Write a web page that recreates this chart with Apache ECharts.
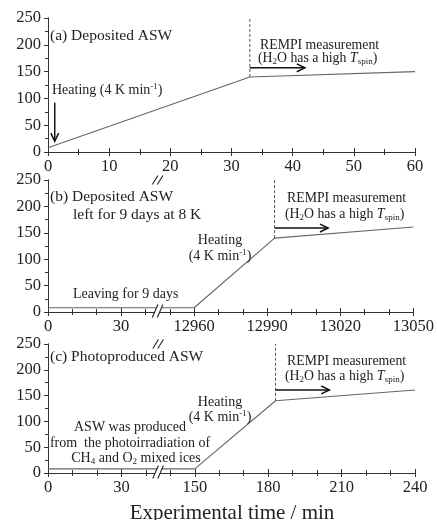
<!DOCTYPE html>
<html>
<head>
<meta charset="utf-8">
<script src="https://cdn.jsdelivr.net/npm/echarts@6/dist/echarts.min.js"></script>
<style>html,body{margin:0;padding:0;background:#fff;}#c{width:437px;height:520px;}</style>
</head>
<body>
<div id="c"></div>
<script>
// ---- data ----
const aTime = [0, 33, 60];
const aTemp = [8, 140, 150];
const bTime = [0, 12960, 12993, 13050];
const bTemp = [8, 8, 140, 161];
const cTime = [0, 150, 183, 240];
const cTemp = [8, 8, 140, 161];
const rempiStart = [33, 12993, 183];     // dashed line / arrow start (min)
const arrowEnd = [42, 13015, 205];        // REMPI arrow end (min)
const arrowTemp = [157, 159, 161];        // REMPI arrow height (K)
const heatArrowA = [1.1, 92, 1.1, 20];    // Heating arrow in (a): x1,y1,x2,y2
const xTicksA = ['0','10','20','30','40','50','60'];
const xTicksB = ['0','30','12960','12990','13020','13050'];
const xTicksC = ['0','30','150','180','210','240'];
const yTicks = ['0','50','100','150','200','250'];
const breakAt = 45;                       // axis break (display units)
const breakOffsetB = 12900;
const breakOffsetC = 90;

const toDisp = (t, off) => (t <= breakAt ? t : t - off);

const FONT = 'Liberation Serif';
const INK = '#222';
const grids = [
  {left: 48, top: 18, width: 367, height: 134},
  {left: 48, top: 180, width: 367, height: 132},
  {left: 48, top: 344, width: 367, height: 129}
];

const xCfg = [
  {max: 60, interval: 10, split: 2, labels: xTicksA},
  {max: 150, interval: 30, split: 3, labels: xTicksB},
  {max: 150, interval: 30, split: 3, labels: xTicksC}
];

const xAxis = [], yAxis = [];
grids.forEach((g, i) => {
  const c = xCfg[i];
  const base = {
    type: 'value', gridIndex: i, min: 0, max: c.max, interval: c.interval,
    axisLine: {show: true, lineStyle: {color: '#333', width: 1}},
    axisTick: {show: true, inside: true, length: 4, lineStyle: {color: '#333'}},
    minorTick: {show: true, splitNumber: c.split, length: 3, lineStyle: {color: '#333'}},
    splitLine: {show: false}
  };
  xAxis.push(Object.assign({}, base, {
    position: 'bottom',
    axisLabel: {show: true, margin: 6, color: INK, fontFamily: FONT, fontSize: 16.5,
      formatter: v => c.labels[Math.round(v / c.interval)]}
  }));
  xAxis.push(Object.assign({}, base, {position: 'top', axisLabel: {show: false}}));
  const ybase = {
    type: 'value', gridIndex: i, min: 0, max: 250, interval: 50,
    axisLine: {show: true, lineStyle: {color: '#333', width: 1}},
    minorTick: {show: true, splitNumber: 2, length: 3, lineStyle: {color: '#333'}},
    splitLine: {show: false}
  };
  yAxis.push(Object.assign({}, ybase, {
    position: 'left',
    axisTick: {show: true, inside: false, length: 4, lineStyle: {color: '#333'}},
    axisLabel: {show: true, margin: 7, color: INK, fontFamily: FONT, fontSize: 16.5,
      formatter: v => yTicks[Math.round(v / 50)]}
  }));
  yAxis.push(Object.assign({}, ybase, {
    position: 'right',
    axisTick: {show: true, inside: true, length: 4, lineStyle: {color: '#333'}},
    axisLabel: {show: false}
  }));
});

const panels = [
  {time: aTime, temp: aTemp, map: t => t},
  {time: bTime, temp: bTemp, map: t => toDisp(t, breakOffsetB)},
  {time: cTime, temp: cTemp, map: t => toDisp(t, breakOffsetC)}
];

function arrowRender(params, api) {
  const p1 = api.coord([api.value(0), api.value(1)]);
  const p2 = api.coord([api.value(2), api.value(3)]);
  const ang = Math.atan2(p2[1] - p1[1], p2[0] - p1[0]);
  const L = 9, w = Math.PI / 7;
  const h1 = [p2[0] - L * Math.cos(ang - w), p2[1] - L * Math.sin(ang - w)];
  const h2 = [p2[0] - L * Math.cos(ang + w), p2[1] - L * Math.sin(ang + w)];
  return {
    type: 'group',
    children: [
      {type: 'line', shape: {x1: p1[0], y1: p1[1], x2: p2[0], y2: p2[1]},
        style: {stroke: '#111', lineWidth: 1.5}},
      {type: 'polyline', shape: {points: [h1, p2, h2]},
        style: {stroke: '#111', lineWidth: 1.5, fill: null}}
    ]
  };
}

function breakRender(params, api) {
  const p = api.coord([api.value(0), api.value(1)]);
  const hh = api.value(1) > 0 ? 4.5 : 6.5;
  const cy = api.value(1) > 0 ? p[1] : p[1] - 1;
  const dx = 2.5, sx = 2.8;
  const x = p[0];
  return {
    type: 'group',
    children: [
      {type: 'polygon', shape: {points: [
        [x - dx - sx, cy + hh], [x - dx + sx, cy - hh], [x + dx + sx, cy - hh], [x + dx - sx, cy + hh]
      ]}, style: {fill: '#fff', stroke: null}},
      {type: 'line', shape: {x1: x - dx - sx, y1: cy + hh, x2: x - dx + sx, y2: cy - hh},
        style: {stroke: '#222', lineWidth: 1.1}},
      {type: 'line', shape: {x1: x + dx - sx, y1: cy + hh, x2: x + dx + sx, y2: cy - hh},
        style: {stroke: '#222', lineWidth: 1.1}}
    ]
  };
}

const series = [];
panels.forEach((p, i) => {
  const xi = 2 * i, yi = 2 * i;
  series.push({
    type: 'line', xAxisIndex: xi, yAxisIndex: yi, symbol: 'none', z: 3,
    lineStyle: {color: '#666', width: 1.1},
    data: p.time.map((t, k) => [p.map(t), p.temp[k]])
  });
  series.push({
    type: 'line', xAxisIndex: xi, yAxisIndex: yi, symbol: 'none', z: 3,
    lineStyle: {color: '#555', width: 1, type: [3, 2]},
    data: [[p.map(rempiStart[i]), p.temp[p.temp.length - 2]], [p.map(rempiStart[i]), 250]]
  });
  const arrows = [[p.map(rempiStart[i]), arrowTemp[i], p.map(arrowEnd[i]), arrowTemp[i]]];
  if (i === 0) arrows.push(heatArrowA.slice());
  series.push({
    type: 'custom', xAxisIndex: xi, yAxisIndex: yi, z: 5, clip: false, silent: true,
    renderItem: arrowRender, encode: {x: [0, 2], y: [1, 3]}, data: arrows
  });
  if (i > 0) {
    series.push({
      type: 'custom', xAxisIndex: xi, yAxisIndex: yi, z: 10, clip: false, silent: true,
      renderItem: breakRender, encode: {x: 0, y: 1}, data: [[breakAt, 0], [breakAt, 250]]
    });
  }
});

const RICH = {
  sup: {fontSize: 9, fontFamily: FONT, fill: INK, color: INK, verticalAlign: 'top', lineHeight: 16},
  sub: {fontSize: 9, fontFamily: FONT, fill: INK, color: INK, verticalAlign: 'bottom', lineHeight: 14},
  it: {fontSize: 14, fontFamily: FONT, fill: INK, color: INK, fontStyle: 'italic', lineHeight: 16}
};
function txt(text, x, y, size, align) {
  return {
    type: 'text', z: 20, silent: true,
    style: {
      text: text, x: x, y: y, fill: INK, fontFamily: FONT, fontSize: size || 14,
      textAlign: align || 'left', textVerticalAlign: 'middle', lineHeight: 16,
      rich: RICH
    }
  };
}
const graphic = [
  txt('(a) Deposited ASW', 50, 36, 15.5),
  txt('Heating (4 K min{sup|-1})', 52, 90, 14),
  txt('REMPI measurement', 260, 45, 13.8),
  txt('(H{sub|2}O has a high {it|T}{sub|spin})', 258, 58, 13.8),

  txt('(b) Deposited ASW', 50, 197, 15.5),
  txt('left for 9 days at 8 K', 73, 215, 15.5),
  txt('Heating', 220, 240, 14, 'center'),
  txt('(4 K min{sup|-1})', 220, 256, 14, 'center'),
  txt('REMPI measurement', 287, 198, 13.8),
  txt('(H{sub|2}O has a high {it|T}{sub|spin})', 285, 214, 13.8),
  txt('Leaving for 9 days', 73, 294, 14),

  txt('(c) Photoproduced ASW', 50, 357, 15.5),
  txt('REMPI measurement', 287, 361, 13.8),
  txt('(H{sub|2}O has a high {it|T}{sub|spin})', 285, 376, 13.8),
  txt('Heating', 220, 402, 14, 'center'),
  txt('(4 K min{sup|-1})', 220, 417, 14, 'center'),
  txt('ASW was produced', 130, 427, 14, 'center'),
  txt('from  the photoirradiation of', 130, 443, 14, 'center'),
  txt('CH{sub|4} and O{sub|2} mixed ices', 136, 458, 14, 'center'),

  txt('Experimental time / min', 232, 513, 21, 'center')
];

const chart = echarts.init(document.getElementById('c'), null, {renderer: 'canvas'});
chart.setOption({
  animation: false,
  backgroundColor: '#fff',
  grid: grids,
  xAxis: xAxis,
  yAxis: yAxis,
  series: series,
  graphic: graphic
});
</script>
</body>
</html>
